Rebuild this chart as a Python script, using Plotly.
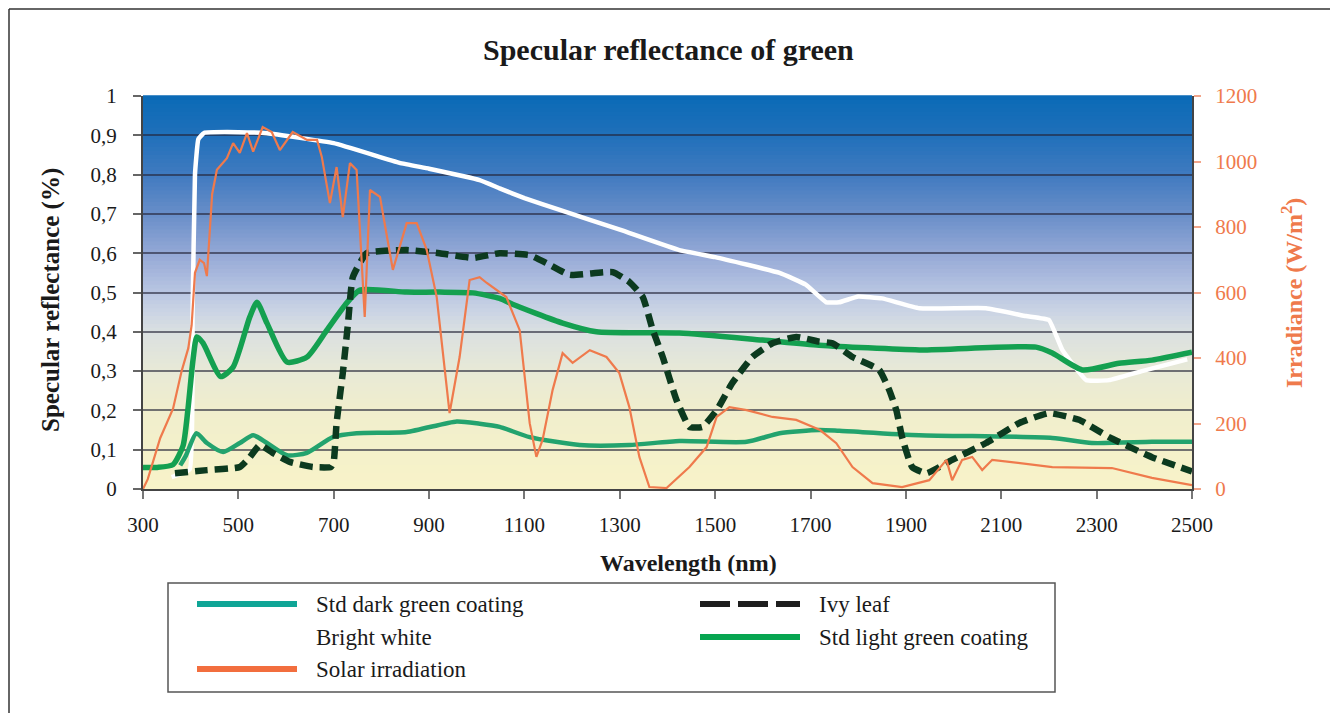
import plotly.graph_objects as go

# ---------------- data ----------------
light_green_x = [300, 330, 363, 384, 394, 405, 413, 426, 463, 489, 524, 539, 560, 602, 644, 686, 727, 755,
                 853, 922, 992, 1048, 1075, 1180, 1251, 1425, 1599, 1718, 1928, 2173, 2207, 2270, 2347, 2416, 2500]
light_green_y = [0.055, 0.055, 0.062, 0.11, 0.2, 0.33, 0.387, 0.371, 0.286, 0.31, 0.438, 0.475, 0.422, 0.323,
                 0.336, 0.405, 0.473, 0.506, 0.501, 0.501, 0.499, 0.485, 0.47, 0.422, 0.40, 0.397, 0.379, 0.366,
                 0.354, 0.361, 0.346, 0.303, 0.32, 0.328, 0.348]

dark_green_x = [378, 390, 412, 434, 468, 503, 531, 560, 602, 644, 698, 748, 853, 958, 1006, 1048, 1111, 1216,
                1320, 1425, 1566, 1635, 1718, 1760, 1928, 2207, 2290, 2416, 2500]
dark_green_y = [0.06, 0.085, 0.142, 0.117, 0.094, 0.117, 0.137, 0.117, 0.086, 0.092, 0.132, 0.142, 0.145, 0.172,
                0.166, 0.158, 0.132, 0.112, 0.112, 0.122, 0.12, 0.142, 0.15, 0.148, 0.137, 0.13, 0.117, 0.12, 0.12]

white_x = [360, 398, 404, 409, 416, 428, 500, 560, 700, 838, 900, 1006, 1048, 1100, 1174, 1300, 1425, 1500,
           1635, 1690, 1733, 1760, 1800, 1850, 1928, 2068, 2152, 2200, 2228, 2278, 2326, 2395, 2490]
white_y = [0.03, 0.05, 0.45, 0.8, 0.89, 0.906, 0.908, 0.905, 0.88, 0.83, 0.815, 0.786, 0.765, 0.74, 0.71, 0.66,
           0.608, 0.59, 0.55, 0.52, 0.475, 0.475, 0.49, 0.485, 0.46, 0.46, 0.44, 0.43, 0.354, 0.277, 0.277, 0.30,
           0.33]

ivy_x = [367, 434, 503, 524, 545, 572, 608, 656, 694, 700, 706, 719, 730, 740, 769, 853, 922, 992, 1048, 1111,
         1146, 1195, 1285, 1320, 1348, 1369, 1390, 1419, 1446, 1473, 1503, 1536, 1578, 1620, 1670, 1718, 1746,
         1788, 1844, 1865, 1880, 1892, 1913, 1943, 1997, 2068, 2138, 2200, 2263, 2326, 2416, 2500]
ivy_y = [0.04, 0.048, 0.056, 0.081, 0.112, 0.092, 0.069, 0.056, 0.056, 0.07, 0.168, 0.295, 0.422, 0.539, 0.60,
         0.608, 0.60, 0.588, 0.60, 0.595, 0.575, 0.545, 0.552, 0.527, 0.489, 0.405, 0.336, 0.226, 0.158, 0.158,
         0.20, 0.27, 0.336, 0.371, 0.387, 0.375, 0.371, 0.336, 0.303, 0.252, 0.20, 0.132, 0.056, 0.04, 0.074,
         0.117, 0.168, 0.193, 0.176, 0.132, 0.081, 0.045]

solar_x = [300, 310, 336, 363, 381, 395, 402, 409, 419, 428, 434, 445, 455, 476, 489, 503, 518, 531, 551, 570,
           587, 614, 644, 665, 675, 692, 706, 719, 734, 748, 765, 776, 797, 824, 853, 874, 895, 916, 943, 964, 985,
           1006, 1021, 1062, 1090, 1111, 1125, 1138, 1159, 1180, 1201, 1237, 1272, 1299, 1320, 1341, 1362, 1398,
           1446, 1482, 1503, 1530, 1566, 1620, 1670, 1720, 1754, 1788, 1830, 1892, 1949, 1985, 1997, 2018, 2039,
           2060, 2081, 2207, 2332, 2416, 2500]
solar_y = [0, 30, 155, 245, 360, 430, 500, 660, 700, 690, 650, 900, 975, 1010, 1056, 1026, 1087, 1030, 1105, 1090,
           1035, 1090, 1066, 1066, 1014, 873, 983, 830, 995, 974, 525, 913, 892, 669, 812, 812, 730, 586, 232, 403,
           638, 647, 629, 586, 485, 201, 98, 150, 302, 415, 385, 424, 403, 354, 250, 98, 6, 3, 67, 128, 220, 250,
           241, 220, 211, 180, 140, 67, 18, 6, 27, 89, 27, 89, 98, 58, 89, 67, 64, 34, 12]

x_ticks = [300, 500, 700, 900, 1100, 1300, 1500, 1700, 1900, 2100, 2300, 2500]
y_ticks = [0, 0.1, 0.2, 0.3, 0.4, 0.5, 0.6, 0.7, 0.8, 0.9, 1]
y_tick_labels = ["0", "0,1", "0,2", "0,3", "0,4", "0,5", "0,6", "0,7", "0,8", "0,9", "1"]
y2_ticks = [0, 200, 400, 600, 800, 1000, 1200]

# ---------------- styling ----------------
FONT = "Liberation Serif"
ORANGE = "#ef7a4c"
PAGE_W, PAGE_H = 1338, 713
OFF = 8                      # browser body margin
W, H = PAGE_W - OFF, PAGE_H - OFF
PL, PR, PT, PB = 143, 1192, 96, 489   # plot area in page pixels


def px2x(px):
    return (px - PL) / (PR - PL)


def px2y(py):
    return (PB - py) / (PB - PT)


fig = go.Figure()

fig.add_trace(go.Scatter(x=solar_x, y=solar_y, yaxis="y2", mode="lines", name="Solar irradiation",
                         line=dict(color=ORANGE, width=2.2), showlegend=False))
fig.add_trace(go.Scatter(x=white_x, y=white_y, mode="lines", name="Bright white",
                         line=dict(color="white", width=4.5, shape="spline", smoothing=0.3), showlegend=False))
fig.add_trace(go.Scatter(x=light_green_x, y=light_green_y, mode="lines", name="Std light green coating",
                         line=dict(color="#14a050", width=5.5, shape="spline", smoothing=0.6), showlegend=False))
fig.add_trace(go.Scatter(x=dark_green_x, y=dark_green_y, mode="lines", name="Std dark green coating",
                         line=dict(color="#23a36e", width=4.5, shape="spline", smoothing=0.6), showlegend=False))
fig.add_trace(go.Scatter(x=ivy_x, y=ivy_y, mode="lines", name="Ivy leaf",
                         line=dict(color="#0c3a1f", width=6.5, dash="13px,7px", shape="spline", smoothing=0.4),
                         showlegend=False))

shapes = []
# gradient background of the plot area
stops = [(0.0, (248, 243, 200)), (0.2, (240, 238, 205)), (0.3, (232, 233, 214)), (0.4, (218, 224, 225)),
         (0.45, (203, 212, 228)), (0.5, (185, 198, 226)), (0.6, (148, 168, 214)), (0.7, (104, 142, 200)),
         (0.8, (64, 122, 192)), (0.9, (32, 112, 186)), (1.0, (10, 106, 182))]


def grad(v):
    for (a, ca), (b, cb) in zip(stops[:-1], stops[1:]):
        if a <= v <= b:
            t = (v - a) / (b - a)
            return "rgb(%d,%d,%d)" % tuple(round(ca[i] + (cb[i] - ca[i]) * t) for i in range(3))
    return "rgb(%d,%d,%d)" % stops[-1][1]


N = 100
for i in range(N):
    y0, y1 = i / N, (i + 1) / N
    shapes.append(dict(type="rect", xref="paper", yref="paper", x0=0, x1=1, y0=y0, y1=y1 + 0.002,
                       fillcolor=grad((y0 + y1) / 2), line=dict(width=0), layer="below"))

# outer frame (top and left edges)
shapes.append(dict(type="line", xref="paper", yref="paper", x0=px2x(OFF + 1), x1=px2x(PAGE_W + 5),
                   y0=px2y(OFF + 1), y1=px2y(OFF + 1), line=dict(color="#333", width=1.5)))
shapes.append(dict(type="line", xref="paper", yref="paper", x0=px2x(OFF + 1), x1=px2x(OFF + 1),
                   y0=px2y(OFF + 1), y1=px2y(PAGE_H + 5), line=dict(color="#333", width=1.5)))
# legend box
shapes.append(dict(type="rect", xref="paper", yref="paper", x0=px2x(168), x1=px2x(1055), y0=px2y(583),
                   y1=px2y(692), line=dict(color="#555", width=1.5), fillcolor="white"))

annotations = []
legend_items = [
    ("Std dark green coating", "#0fa596", None, 197, 604),
    ("Bright white", "white", None, 197, 637),
    ("Solar irradiation", "#f26e3e", None, 197, 669),
    ("Ivy leaf", "#1e1e1e", "30px,8px", 700, 604),
    ("Std light green coating", "#06a550", None, 700, 637),
]
for name, col, dash, lx, ly in legend_items:
    ln = dict(color=col, width=6)
    if dash:
        ln["dash"] = dash
    shapes.append(dict(type="line", xref="paper", yref="paper", x0=px2x(lx), x1=px2x(lx + 100),
                       y0=px2y(ly), y1=px2y(ly), line=ln))
    annotations.append(dict(text=name, xref="paper", yref="paper", x=px2x(lx + 117), y=px2y(ly),
                            xanchor="left", yanchor="middle", showarrow=False,
                            font=dict(family=FONT, size=23, color="#1a1a1a")))

# axis titles
annotations.append(dict(text="<b>Specular reflectance (%)</b>", xref="paper", yref="paper", x=px2x(51),
                        y=px2y(300), textangle=-90, showarrow=False, xanchor="center", yanchor="middle",
                        font=dict(family=FONT, size=25, color="#1a1a1a")))
annotations.append(dict(text="<b>Irradiance (W/m<sup>2</sup>)</b>", xref="paper", yref="paper", x=px2x(1292),
                        y=px2y(293), textangle=-90, showarrow=False, xanchor="center", yanchor="middle",
                        font=dict(family=FONT, size=24, color=ORANGE)))
annotations.append(dict(text="<b>Wavelength (nm)</b>", xref="paper", yref="paper", x=px2x(688), y=px2y(563),
                        showarrow=False, xanchor="center", yanchor="middle",
                        font=dict(family=FONT, size=24, color="#1a1a1a")))
annotations.append(dict(text="<b>Specular reflectance of green</b>", xref="paper", yref="paper", x=px2x(668),
                        y=px2y(50), showarrow=False, xanchor="center", yanchor="middle",
                        font=dict(family=FONT, size=30, color="#1a1a1a")))

fig.update_layout(
    width=W, height=H,
    margin=dict(l=PL - OFF, r=W - (PR - OFF), t=PT - OFF, b=H - (PB - OFF)),
    paper_bgcolor="white", plot_bgcolor="rgba(0,0,0,0)",
    font=dict(family=FONT, size=21, color="#1a1a1a"),
    showlegend=False,
    shapes=shapes, annotations=annotations,
    xaxis=dict(range=[300, 2500], tickvals=x_ticks, ticks="outside", ticklen=8, tickcolor="#777",
               tickwidth=2, showline=True, linecolor="#444", linewidth=2, showgrid=False, zeroline=False,
               ticklabelstandoff=8, tickfont=dict(family=FONT, size=21, color="#1a1a1a")),
    yaxis=dict(range=[0, 1], tickvals=y_ticks, ticktext=y_tick_labels, ticks="outside", ticklen=8,
               tickcolor="#666", tickwidth=2, showline=True, linecolor="#444", linewidth=2,
               showgrid=True, gridcolor="rgba(35,35,55,0.62)", gridwidth=2, zeroline=False,
               ticklabelstandoff=12, tickfont=dict(family=FONT, size=21, color="#1a1a1a")),
    yaxis2=dict(range=[0, 1200], tickvals=y2_ticks, overlaying="y", side="right", ticks="outside",
                ticklen=7, tickcolor="#f2a58a", tickwidth=1.5, showline=True, linecolor="#444", linewidth=2,
                showgrid=False, zeroline=False, ticklabelstandoff=10,
                tickfont=dict(family=FONT, size=21, color=ORANGE)),
)

fig.write_html("out.html")
